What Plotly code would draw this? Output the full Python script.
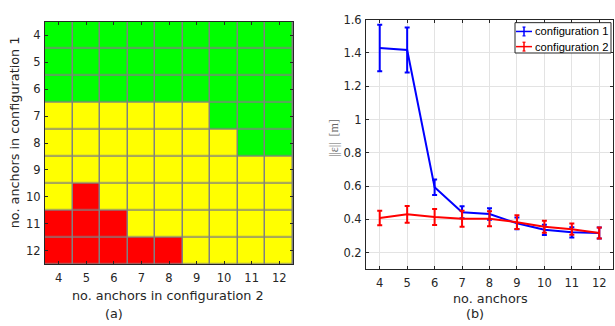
import plotly.graph_objects as go

# ---- data ----
anchors = [4, 5, 6, 7, 8, 9, 10, 11, 12]
# heatmap: rows = no. anchors in configuration 1, cols = configuration 2
# 2 = green, 1 = yellow, 0 = red
heat_rows = [
    [2, 2, 2, 2, 2, 2, 2, 2, 2],  # 4
    [2, 2, 2, 2, 2, 2, 2, 2, 2],  # 5
    [2, 2, 2, 2, 2, 2, 2, 2, 2],  # 6
    [1, 1, 1, 1, 1, 1, 2, 2, 2],  # 7
    [1, 1, 1, 1, 1, 1, 1, 2, 2],  # 8
    [1, 1, 1, 1, 1, 1, 1, 1, 1],  # 9
    [1, 0, 1, 1, 1, 1, 1, 1, 1],  # 10
    [0, 0, 0, 1, 1, 1, 1, 1, 1],  # 11
    [0, 0, 0, 0, 0, 1, 1, 1, 1],  # 12
]
cfg1_mean = [1.43, 1.418, 0.593, 0.443, 0.432, 0.376, 0.337, 0.322, 0.318]
cfg1_err = [0.14, 0.135, 0.046, 0.036, 0.034, 0.035, 0.031, 0.031, 0.033]
cfg2_mean = [0.408, 0.43, 0.414, 0.403, 0.404, 0.383, 0.356, 0.341, 0.318]
cfg2_err = [0.043, 0.05, 0.048, 0.048, 0.045, 0.041, 0.036, 0.034, 0.033]
series_names = ["configuration 1", "configuration 2"]
series_colors = ["#0000ff", "#ff0000"]
ytick_vals = [0.2, 0.4, 0.6, 0.8, 1.0, 1.2, 1.4, 1.6]
ytick_text = ["0.2", "0.4", "0.6", "0.8", "1", "1.2", "1.4", "1.6"]

W, H = 615, 326
TXT = "#262626"
FONT = "DejaVu Sans"
FS = 11.5

def px_x(p):
    return p / W

def px_y(p):
    return 1 - p / H

fig = go.Figure()

fig.add_trace(go.Heatmap(
    x=anchors, y=anchors, z=heat_rows,
    zmin=0, zmax=2,
    colorscale=[[0, "#ff0000"], [0.5, "#ffff00"], [1, "#00ff00"]],
    showscale=False, xgap=1.5, ygap=1.5,
    xaxis="x", yaxis="y", hoverinfo="skip",
))

for mean, err, name, col in zip([cfg1_mean, cfg2_mean], [cfg1_err, cfg2_err],
                                series_names, series_colors):
    fig.add_trace(go.Scatter(
        x=anchors, y=mean, mode="lines", name=name,
        line=dict(color=col, width=2),
        error_y=dict(type="data", array=err, color=col, thickness=2, width=2.5),
        xaxis="x2", yaxis="y2", showlegend=False,
    ))

common = dict(
    ticks="inside", ticklen=3, tickcolor=TXT, showline=True, linecolor=TXT,
    linewidth=1, mirror="allticks", zeroline=False,
    tickfont=dict(family=FONT, size=FS, color=TXT),
)

fig.update_layout(
    width=W, height=H,
    margin=dict(l=0, r=0, t=0, b=0),
    paper_bgcolor="white",
    plot_bgcolor="#808080",
    xaxis=dict(domain=[px_x(45), px_x(293)], range=[3.5, 12.5], tickvals=anchors,
               showgrid=False, anchor="y", ticklabelstandoff=3, **common),
    yaxis=dict(domain=[px_y(263), px_y(15)], range=[12.5, 3.5], tickvals=anchors,
               showgrid=False, anchor="x", ticklabelstandoff=1, **common),
    xaxis2=dict(domain=[px_x(366), px_x(613)], range=[3.5, 12.5], tickvals=anchors,
                showgrid=True, gridcolor="#e3e3e3", gridwidth=1, anchor="y2",
                ticklabelstandoff=3, **common),
    yaxis2=dict(domain=[px_y(268), px_y(13)], range=[0.1, 1.6], tickvals=ytick_vals,
                ticktext=ytick_text, showgrid=True, gridcolor="#e3e3e3", gridwidth=1,
                anchor="x2", ticklabelstandoff=1, **common),
    showlegend=False,
)

# white background for the right plot
fig.add_shape(type="rect", xref="x2 domain", yref="y2 domain", x0=0, x1=1, y0=0, y1=1,
              fillcolor="white", line=dict(width=0), layer="below")

# ---- legend box (MATLAB style) ----
lx0, lx1, ly0, ly1 = 515, 611, 16, 47
fig.add_shape(type="rect", xref="paper", yref="paper",
              x0=px_x(lx0), x1=px_x(lx1), y0=px_y(ly1), y1=px_y(ly0),
              fillcolor="white", line=dict(color=TXT, width=1), layer="above")
for i, (name, col) in enumerate(zip(series_names, series_colors)):
    cy = 25 + i * 15.5
    fig.add_shape(type="line", xref="paper", yref="paper",
                  x0=px_x(516), x1=px_x(532), y0=px_y(cy), y1=px_y(cy),
                  line=dict(color=col, width=1.5), layer="above")
    fig.add_shape(type="line", xref="paper", yref="paper",
                  x0=px_x(524), x1=px_x(524), y0=px_y(cy - 4.5), y1=px_y(cy + 4.5),
                  line=dict(color=col, width=1.5), layer="above")
    for dy in (-4.5, 4.5):
        fig.add_shape(type="line", xref="paper", yref="paper",
                      x0=px_x(522.5), x1=px_x(525.5), y0=px_y(cy + dy), y1=px_y(cy + dy),
                      line=dict(color=col, width=1.2), layer="above")
    fig.add_annotation(xref="paper", yref="paper", x=px_x(532.5), y=px_y(cy),
                       text=name, showarrow=False, xanchor="left", yanchor="middle",
                       font=dict(family="Liberation Sans", size=11.2, color="#000000"))

ann_font = dict(family=FONT, size=12.8, color=TXT)
annotations = [
    dict(text="no. anchors in configuration 2", x=px_x(168), y=px_y(295)),
    dict(text="(a)", x=px_x(114), y=px_y(313)),
    dict(text="no. anchors in configuration 1", x=px_x(14), y=px_y(128), textangle=-90),
    dict(text="no. anchors", x=px_x(490), y=px_y(298)),
    dict(text="(b)", x=px_x(475), y=px_y(313)),
    dict(text="||ε||  [m]", x=px_x(334), y=px_y(134), textangle=-90,
         font=dict(family="Liberation Serif", size=12, color="#666666")),
]
for a in annotations:
    a.setdefault("font", ann_font)
    fig.add_annotation(xref="paper", yref="paper", showarrow=False,
                       xanchor="center", yanchor="middle", **a)

fig.write_html("out.html")
